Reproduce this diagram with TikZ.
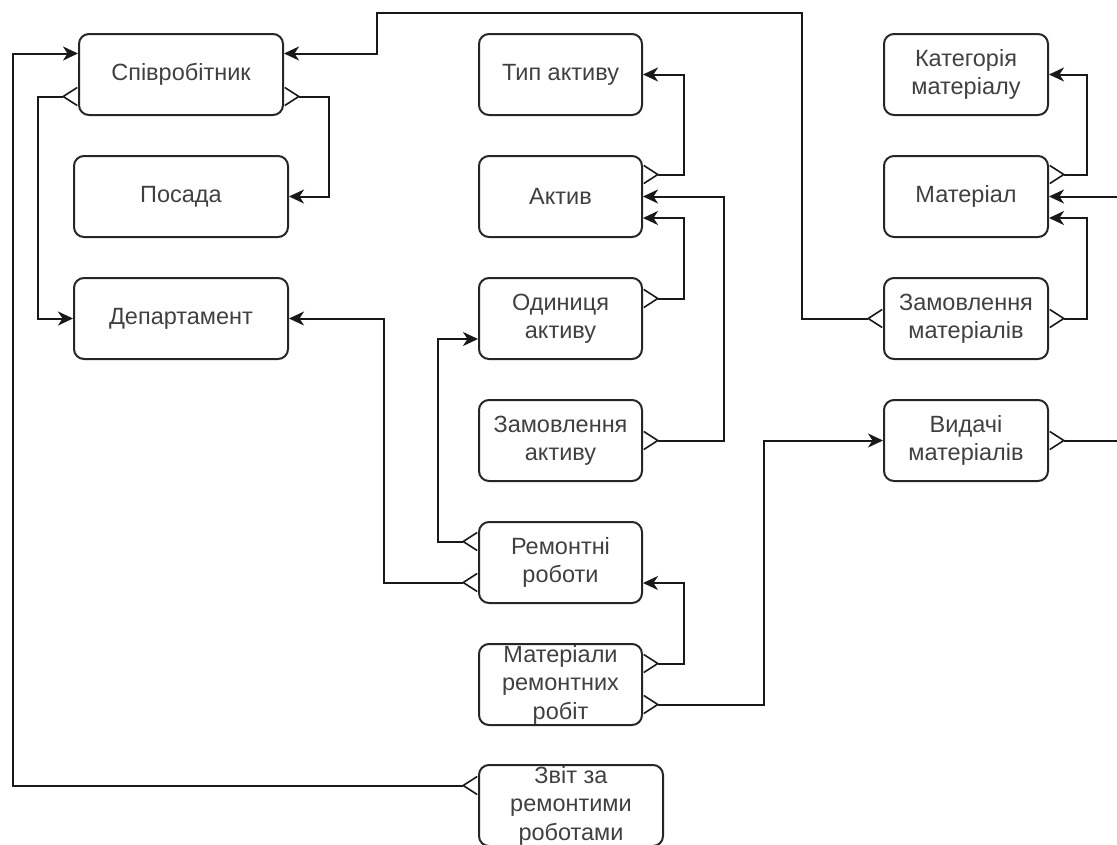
\documentclass[tikz,border=0pt]{standalone}
\usepackage{fontspec}
\setmainfont{Liberation Sans}
\usetikzlibrary{arrows.meta}
\begin{document}
\begin{tikzpicture}[x=1pt,y=-1pt,
  ent/.style={draw=black!85, line width=2pt, rounded corners=10pt,
    minimum width=#1, minimum height=81pt, inner sep=0pt, anchor=north west,
    align=center, text=black!75, font=\fontsize{23.5}{28.5}\selectfont},
  ent/.default=163pt,
  rel/.style={draw=black!90, line width=2pt,
    {Straight Barb[reversed,length=14pt,width=18pt,line width=1.6pt]}-{Stealth[length=15pt,width=14pt,inset=4.5pt]}},
]
\useasboundingbox (0,0) rectangle (1117,844);
\begin{scope}
\clip (0,0) rectangle (1117,844);
% entities
\node[ent=204pt] (emp) at (78,33) {Співробітник};
\node[ent=214pt] (pos) at (73,155) {Посада};
\node[ent=214pt] (dep) at (73,277) {Департамент};
\node[ent] (typ) at (478,33) {Тип активу};
\node[ent] (akt) at (478,155) {Актив};
\node[ent] (od) at (478,277) {Одиниця\\активу};
\node[ent] (zak) at (478,399) {Замовлення\\активу};
\node[ent] (rem) at (478,521) {Ремонтні\\роботи};
\node[ent] (mrr) at (478,643) {Матеріали\\ремонтних\\робіт};
\node[ent=184pt] (zvit) at (478,764) {Звіт за\\ремонтими\\роботами};
\node[ent=164pt] (kat) at (883,33) {Категорія\\матеріалу};
\node[ent=164pt] (mat) at (883,155) {Матеріал};
\node[ent=164pt] (zm) at (883,277) {Замовлення\\матеріалів};
\node[ent=164pt] (vyd) at (883,399) {Видачі\\матеріалів};
% connectors
\draw[rel] ([yshift=-22pt]emp.west) -- ++(-40,0) |- (dep.west);
\draw[rel] ([yshift=-22pt]emp.east) -- ++(45,0) |- (pos.east);
\draw[rel] (zm.west) -- ++(-81,0) |- (377,13) |- ([yshift=21pt]emp.east);
\draw[rel] ([yshift=22pt]akt.east) -- ++(41,0) |- (typ.east);
\draw[rel] ([yshift=20pt]od.east) -- ++(41,0) |- ([yshift=-21.5pt]akt.east);
\draw[rel] (zak.east) -- ++(81,0) |- (akt.east);
\draw[rel] ([yshift=21pt]rem.west) -- ++(-40,0) |- ([yshift=-20.5pt]od.west);
\draw[rel] ([yshift=-20pt]rem.west) -- ++(-94,0) |- (dep.east);
\draw[rel] ([yshift=21pt]mrr.east) -- ++(41,0) |- ([yshift=-20.5pt]rem.east);
\draw[rel] ([yshift=-20pt]mrr.east) -- ++(121,0) |- (vyd.west);
\draw[rel] (vyd.east) -- ++(100,0) |- (mat.east);
\draw[rel] ([yshift=22pt]mat.east) -- ++(38,0) |- (kat.east);
\draw[rel] (zm.east) -- ++(38,0) |- ([yshift=-21.5pt]mat.east);
\draw[rel] ([yshift=20pt]zvit.west) -- ++(-465,0) |- ([yshift=21pt]emp.west);
\end{scope}
\end{tikzpicture}
\end{document}
